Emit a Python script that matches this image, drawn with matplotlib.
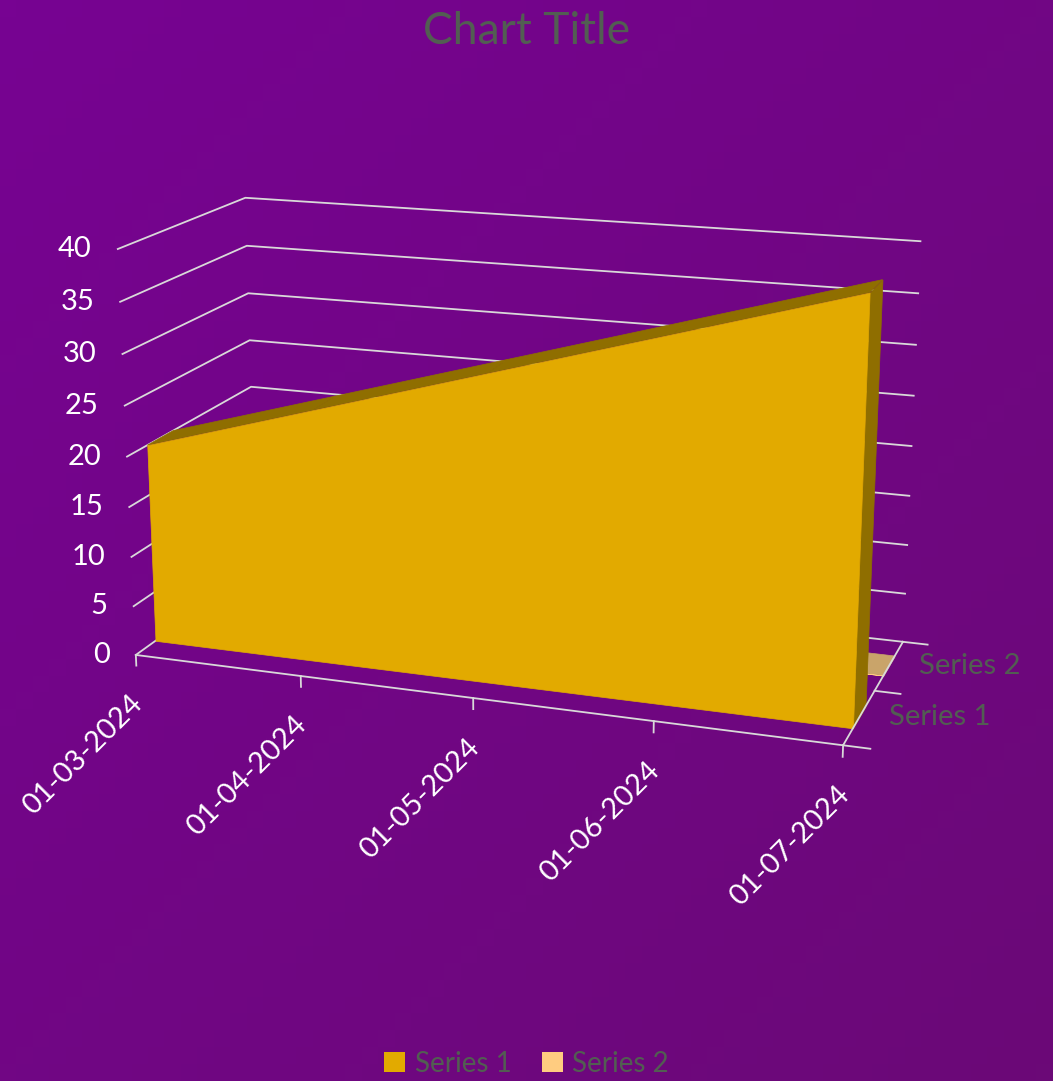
import numpy as np
import matplotlib
matplotlib.use("Agg")
import matplotlib.pyplot as plt
from matplotlib.patches import Patch
from mpl_toolkits.mplot3d import proj3d
from mpl_toolkits.mplot3d.art3d import Poly3DCollection

dates = ["01-03-2024", "01-04-2024", "01-05-2024", "01-06-2024", "01-07-2024"]
series_names = ["Series 1", "Series 2"]
series1 = [20, 25, 30, 35, 40]
series2 = [0, 0, 0, 0, 0]
value_ticks = [0, 5, 10, 15, 20, 25, 30, 35, 40]

S1_FRONT, S1_DARK = "#E2AA00", "#8F6E00"
S2_FRONT, S2_TOP = "#FFCC80", "#C9A46A"
GRID = "#D9D9D9"
TXT = "#525E52"
plt.rcParams["font.family"] = ["Lato", "DejaVu Sans"]


def slab(ax, values, y0, y1, front, top, side, z):
    xs = np.arange(len(values))
    vals = list(values)
    face = [(x, y0, v) for x, v in zip(xs, vals)] + [(xs[-1], y0, 0), (xs[0], y0, 0)]
    tops = [[(xs[i], y0, vals[i]), (xs[i + 1], y0, vals[i + 1]),
             (xs[i + 1], y1, vals[i + 1]), (xs[i], y1, vals[i])] for i in range(len(xs) - 1)]
    right = [(xs[-1], y0, 0), (xs[-1], y0, vals[-1]), (xs[-1], y1, vals[-1]), (xs[-1], y1, 0)]
    ax.add_collection3d(Poly3DCollection(tops, facecolor=top, edgecolor=top, lw=0.5, zorder=z))
    ax.add_collection3d(Poly3DCollection([right], facecolor=side, edgecolor=side, lw=0.5, zorder=z + 0.1))
    ax.add_collection3d(Poly3DCollection([face], facecolor=front, edgecolor=front, lw=0.5, zorder=z + 0.2))


fig = plt.figure(figsize=(10.53, 10.81), dpi=100)
fig.patch.set_facecolor("#720485")

# background gradient
bg = fig.add_axes([0, 0, 1, 1], zorder=-1)
gx, gy = np.meshgrid(np.linspace(0, 1, 64), np.linspace(0, 1, 64))
t = (gx + gy) / 2
c0 = np.array([0x77, 0x03, 0x92]) / 255
c1 = np.array([0x6B, 0x09, 0x77]) / 255
bg.imshow(c0 + (c1 - c0) * t[..., None], extent=[0, 1, 0, 1], aspect="auto", origin="upper")
bg.axis("off")

ax = fig.add_axes([-0.015, 0.182, 1.0, 0.78], projection="3d", computed_zorder=False)
ax.patch.set_alpha(0)
ax.set_axis_off()
nx = len(dates)
ax.set_xlim(0, nx - 1)
ax.set_ylim(0, 2)
ax.set_zlim(0, 40)
ax.set_box_aspect((4, 1.6, 2.3), zoom=1.025)
ax.set_proj_type("persp", focal_length=0.56)
ax.view_init(elev=16, azim=-71)


def proj(x, y, z):
    px, py, _ = proj3d.proj_transform(x, y, z, ax.get_proj())
    return px, py


# wall gridlines
for v in value_ticks:
    ax.plot([0, 0, nx - 1], [0, 2, 2], [v, v, v], color=GRID, lw=1.3, zorder=1)

slab(ax, series2, 1.3, 1.7, S2_FRONT, S2_TOP, S2_TOP, 2)
slab(ax, series1, 0.3, 0.7, S1_FRONT, S1_DARK, S1_DARK, 3)

# axis lines and ticks
ax.plot([0, nx - 1], [0, 0], [0, 0], color=GRID, lw=1.3, zorder=6)
ax.plot([nx - 1, nx - 1], [0, 2], [0, 0], color=GRID, lw=1.3, zorder=6)
for i in range(nx):
    ax.plot([i, i], [0, 0], [0, -1.1], color=GRID, lw=1.3, zorder=6)
for d in [0, 1, 2]:
    ax.plot([nx - 1, nx - 1 + 0.14], [d, d], [0, 0], color=GRID, lw=1.3, zorder=6)

# labels
for v in value_ticks:
    ax.annotate(str(v), proj(0, 0, v), xytext=(-26, 0), textcoords="offset pixels",
                color="white", fontsize=21, ha="right", va="center")
for i, d in enumerate(dates):
    ax.annotate(d, proj(i, 0, 0), xytext=(2, -45), textcoords="offset pixels",
                color="white", fontsize=21, rotation=45, ha="right", va="center",
                rotation_mode="anchor")
for k, name in enumerate(series_names):
    ax.annotate(name, proj(nx - 1, k + 0.5, 0), xytext=(30, 0), textcoords="offset pixels",
                color=TXT, fontsize=21, ha="left", va="center")

fig.text(0.5, 0.99, "Chart Title", color=TXT, fontsize=32, ha="center", va="top")
handles = [Patch(facecolor=S1_FRONT), Patch(facecolor=S2_FRONT)]
fig.legend(handles, series_names, loc="lower center", bbox_to_anchor=(0.5, -0.019), ncol=2,
           frameon=False, fontsize=20, labelcolor=TXT, handlelength=0.75, handleheight=0.75,
           handletextpad=0.35, columnspacing=1.1)

fig.savefig("out.png", dpi=100, facecolor=fig.get_facecolor())
